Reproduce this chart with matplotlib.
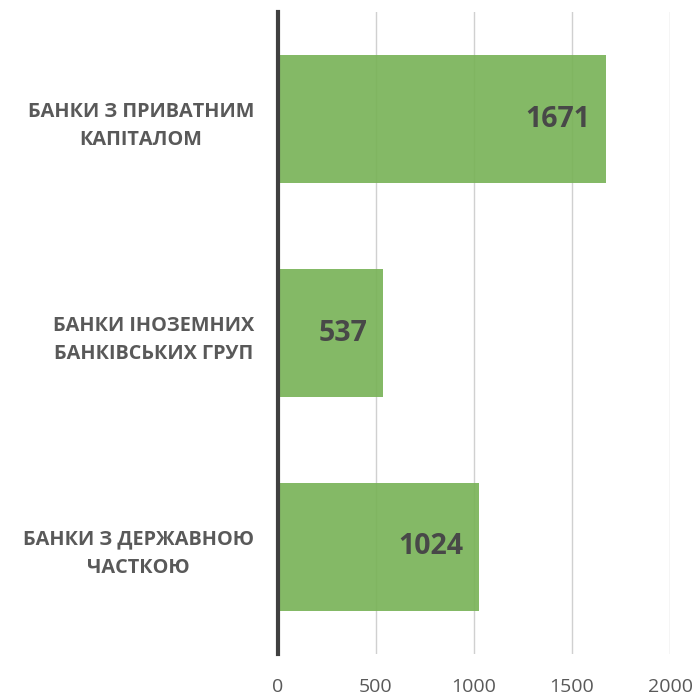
import matplotlib.pyplot as plt

categories = ['БАНКИ З ПРИВАТНИМ\nКАПІТАЛОМ', 'БАНКИ ІНОЗЕМНИХ\nБАНКІВСЬКИХ ГРУП', 'БАНКИ З ДЕРЖАВНОЮ\nЧАСТКОЮ']
values = [1671, 537, 1024]
xticks = [0, 500, 1000, 1500, 2000]

plt.rcParams['font.family'] = ['Open Sans', 'DejaVu Sans']

fig = plt.figure(figsize=(6.98, 6.95), dpi=100)
ax = fig.add_axes([0.398, 0.059, 0.562, 0.9237])

pos = list(range(len(categories)))
bars = ax.barh(pos, values, height=0.6, color='#77b255', alpha=0.9, zorder=2)

for b, v in zip(bars, values):
    ax.annotate(str(v), xy=(b.get_width(), b.get_y() + b.get_height() / 2),
                xytext=(-11, 0), textcoords='offset points', ha='right', va='center',
                fontsize=20.5, fontweight='bold', color='#484848', zorder=3)

ax.set_ylim(2.5, -0.5)
ax.set_xlim(0, 2000)
ax.set_yticks(pos)
ax.set_yticklabels(categories, fontsize=14.3, fontweight='bold', color='#595959',
                   multialignment='center', linespacing=1.55)
ax.set_xticks(xticks)
ax.set_xticklabels([str(t) for t in xticks], fontsize=14, color='#595959')
ax.tick_params(axis='both', length=0)
ax.tick_params(axis='x', pad=17)
ax.tick_params(axis='y', pad=17)

ax.grid(axis='x', color='#d0d0d0', linewidth=1, zorder=1)
ax.set_axisbelow(True)
for s in ['top', 'right', 'bottom']:
    ax.spines[s].set_visible(False)
ax.spines['left'].set_color('#404040')
ax.spines['left'].set_linewidth(3)
ax.spines['left'].set_zorder(4)

fig.savefig('out.png', dpi=100)
